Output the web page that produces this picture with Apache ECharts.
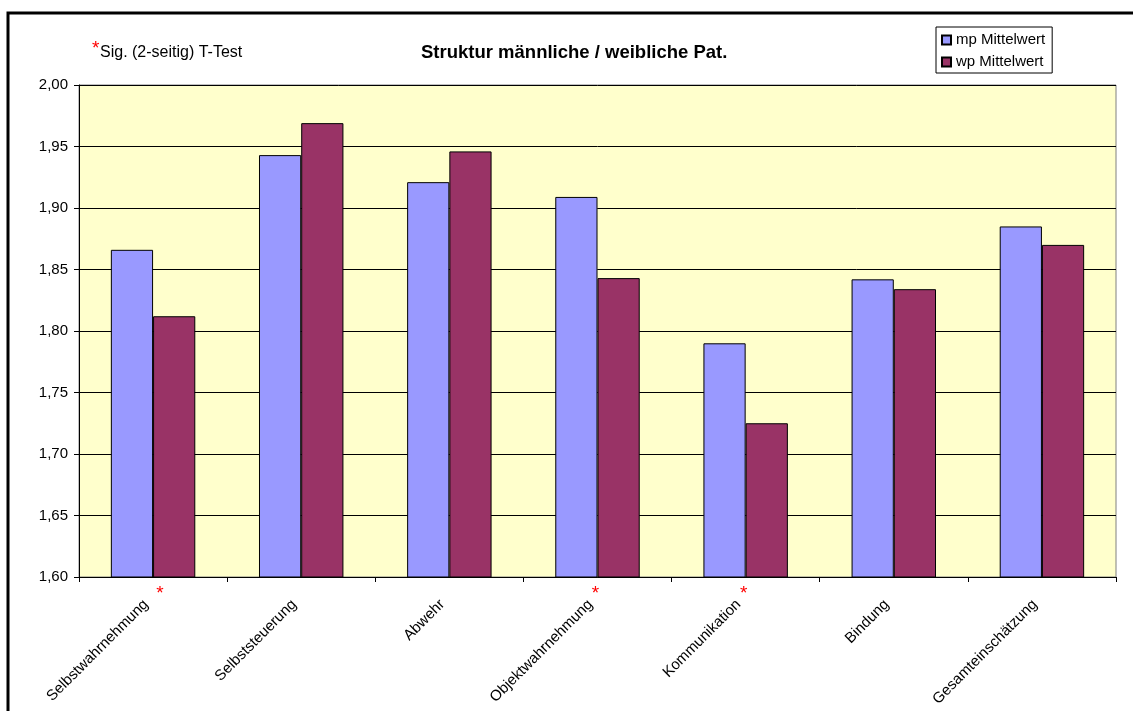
<!DOCTYPE html>
<html>
<head>
<meta charset="utf-8">
<script src="https://cdn.jsdelivr.net/npm/echarts@6/dist/echarts.min.js"></script>
<style>
html,body{margin:0;padding:0;background:#fff;}
#c{width:1133px;height:711px;}
</style>
</head>
<body>
<div id="c"></div>
<script>
var categories = ['Selbstwahrnehmung','Selbststeuerung','Abwehr','Objektwahrnehmung','Kommunikation','Bindung','Gesamteinschätzung'];
var mpValues = [1.866, 1.943, 1.921, 1.909, 1.790, 1.842, 1.885];
var wpValues = [1.812, 1.969, 1.946, 1.843, 1.725, 1.834, 1.870];
var significant = [true, false, false, true, true, false, false];
var seriesNames = ['mp Mittelwert', 'wp Mittelwert'];
var titleText = 'Struktur männliche / weibliche Pat.';
var noteText = 'Sig. (2-seitig) T-Test';

var FONT = '"Liberation Sans", Arial, sans-serif';
var chart = echarts.init(document.getElementById('c'), null, {renderer: 'canvas'});

var option = {
  backgroundColor: '#ffffff',
  animation: false,
  title: {
    text: titleText,
    left: 421, top: 43, padding: 0,
    textStyle: {fontFamily: FONT, fontSize: 18.5, fontWeight: 'bold', color: '#000'}
  },
  legend: {
    orient: 'vertical',
    left: 936, top: 27,
    padding: [4, 7, 2, 5],
    itemGap: 4,
    itemWidth: 9, itemHeight: 9,
    backgroundColor: '#fff',
    borderColor: '#000', borderWidth: 1, borderRadius: 0,
    icon: 'rect',
    textStyle: {fontFamily: FONT, fontSize: 15, color: '#000', lineHeight: 18},
    data: seriesNames
  },
  grid: {
    left: 79, right: 17, top: 85, bottom: 134,
    show: true, backgroundColor: '#FFFFCC', borderColor: '#808080', borderWidth: 1
  },
  xAxis: {
    type: 'category',
    data: categories,
    boundaryGap: true,
    axisLine: {lineStyle: {color: '#000', width: 1}},
    axisTick: {show: true, length: 5, lineStyle: {color: '#000'}},
    axisLabel: {rotate: 45, margin: 18, padding: [0, 10, 0, 0], interval: 0, fontFamily: FONT, fontSize: 15, color: '#000'}
  },
  yAxis: {
    type: 'value',
    min: 1.6, max: 2.0, interval: 0.05,
    axisLine: {show: true, lineStyle: {color: '#000', width: 1}},
    axisTick: {show: true, length: 5, lineStyle: {color: '#000'}},
    axisLabel: {
      margin: 11, fontFamily: FONT, fontSize: 15, color: '#000',
      formatter: function (v) { return v.toFixed(2).replace('.', ','); }
    },
    splitLine: {show: true, lineStyle: {color: '#000', width: 1}}
  },
  series: [
    {
      name: seriesNames[0], type: 'bar', data: mpValues,
      barGap: '0%', barCategoryGap: '43%',
      itemStyle: {color: '#9999FF', borderColor: '#000', borderWidth: 1}
    },
    {
      name: seriesNames[1], type: 'bar', data: wpValues,
      barGap: '0%', barCategoryGap: '43%',
      itemStyle: {color: '#993366', borderColor: '#000', borderWidth: 1}
    }
  ]
};
chart.setOption(option);

// annotations
var sigDx = {0: 7, 3: -2, 4: -2};
var elements = [
  {type: 'rect', shape: {x: 8, y: 13, width: 1300, height: 900}, style: {fill: null, stroke: '#000', lineWidth: 3}, silent: true, z: 100},
  {type: 'text', x: 92, y: 39, style: {text: '*', fill: '#ff0000', font: '19px ' + FONT, textAlign: 'left', textVerticalAlign: 'top'}, z: 100},
  {type: 'text', x: 100, y: 53, style: {text: noteText, fill: '#000', font: '16px ' + FONT, textAlign: 'left', textVerticalAlign: 'middle'}, z: 100}
];
for (var i = 0; i < categories.length; i++) {
  if (!significant[i]) continue;
  var p = chart.convertToPixel({xAxisIndex: 0}, categories[i]);
  var axisY = chart.convertToPixel({yAxisIndex: 0}, 1.6);
  elements.push({
    type: 'text', x: p + (sigDx[i] || 0), y: axisY + 17,
    style: {text: '*', fill: '#ff0000', font: '19px ' + FONT, textAlign: 'center', textVerticalAlign: 'middle'}, z: 100
  });
}
chart.setOption({graphic: {elements: elements}});
</script>
</body>
</html>
